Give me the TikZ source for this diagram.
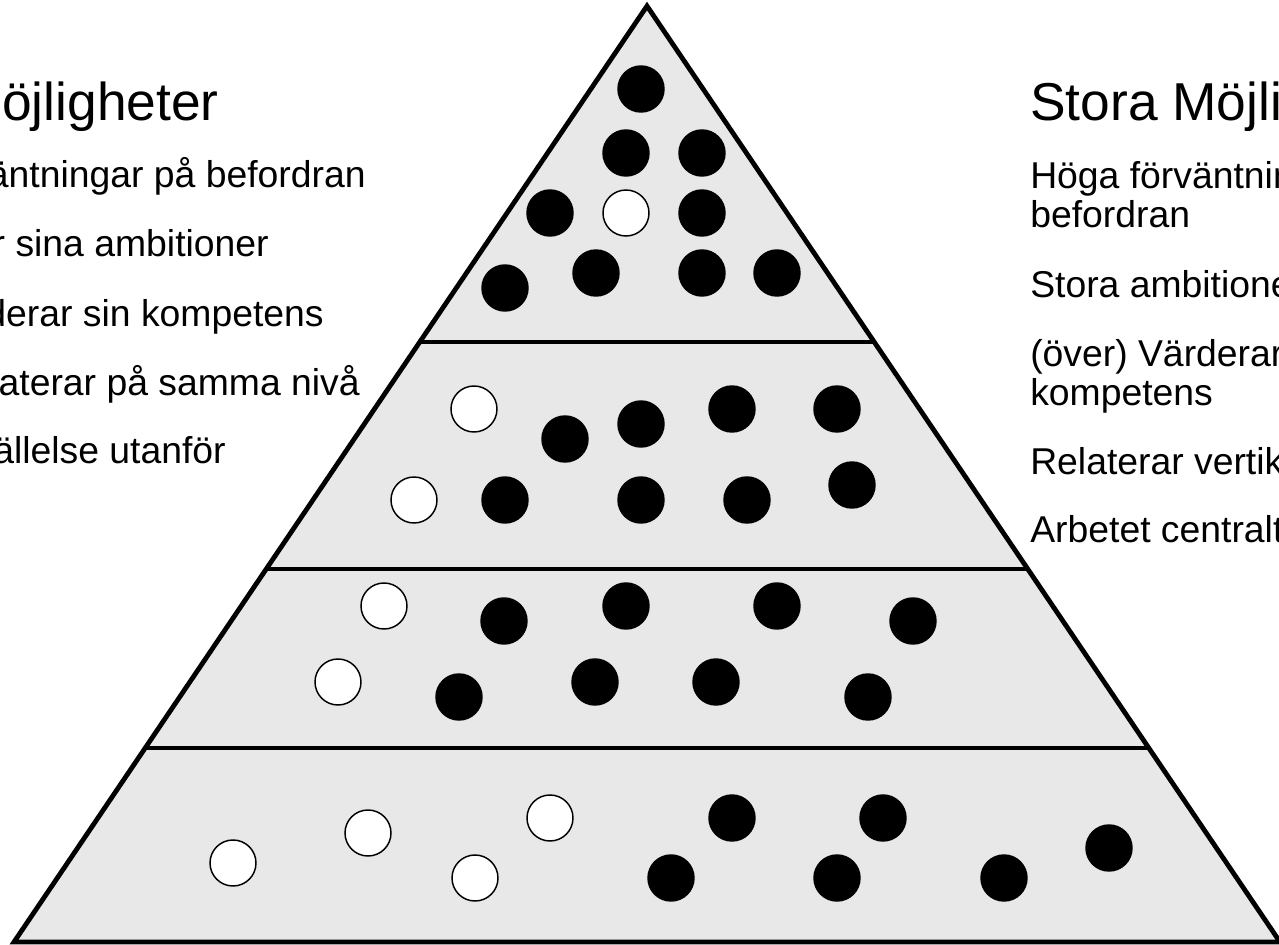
\documentclass[tikz,border=0pt]{standalone}
\usepackage{fontspec}
\setmainfont{Liberation Sans}
\usepackage{xcolor}
\usetikzlibrary{calc, positioning}

\definecolor{pyrgray}{RGB}{232,232,232}

\begin{document}
\begin{tikzpicture}[x=0.75pt, y=-0.75pt,
    blackball/.style={circle, draw=black, fill=black, line width=1.1pt, minimum size=34.5pt, inner sep=0pt},
    whiteball/.style={circle, draw=black, fill=white, line width=1.1pt, minimum size=34.5pt, inner sep=0pt},
    heading/.style={inner sep=0pt, font=\fontsize{40}{47}\selectfont},
    point/.style={inner sep=0pt, font=\fontsize{28}{32}\selectfont}]

        \useasboundingbox (0,0) rectangle (1279,945);
        \clip (0,0) rectangle (1279,945);

        \coordinate (top) at (647,6);
        \coordinate (bl) at (14,942);
        \coordinate (br) at (1280,942);

        \draw[line width=3.6pt, fill=pyrgray] (bl) -- (top) -- (br) -- cycle;

        \foreach \t [count=\i] in {0.359, 0.6015, 0.7927} {
            \coordinate (dl\i) at ($(top)!\t!(bl)$);
            \coordinate (dr\i) at ($(top)!\t!(br)$);
            \draw[line width=2.6pt] (dl\i) -- (dr\i);
        }

        \foreach \x/\y/\s [count=\i] in {
            641/89/blackball, 626/153/blackball, 702/153/blackball, 550/213/blackball, 626/213/whiteball,
            702/213/blackball, 505/288/blackball, 596/273/blackball, 702/273/blackball, 777/273/blackball,
            474/409/whiteball, 565/439/blackball, 641/424/blackball, 732/409/blackball, 837/409/blackball,
            414/500/whiteball, 505/500/blackball, 641/500/blackball, 747/500/blackball, 852/485/blackball,
            384/606/whiteball, 504/621/blackball, 626/606/blackball, 777/606/blackball, 913/621/blackball,
            338/682/whiteball, 459/697/blackball, 595/682/blackball, 716/682/blackball, 868/697/blackball,
            233/863/whiteball, 368/833/whiteball, 475/878/whiteball, 550/818/whiteball, 732/818/blackball,
            671/878/blackball, 883/818/blackball, 837/878/blackball, 1004/878/blackball, 1109/848/blackball} {
            \node[\s] (c\i) at (\x,\y) {};
        }

        \node[heading, anchor=base east] (small) at (219,121) {Små möjligheter};
        \node[point, anchor=base east] (low1) at (366,188) {Låga förväntningar på befordran};
        \node[point, anchor=base east] (low2) at (269,257) {Begränsar sina ambitioner};
        \node[point, anchor=base east] (low3) at (324,326) {Undervärderar sin kompetens};
        \node[point, anchor=base east] (low4) at (360,395) {Relaterar på samma nivå};
        \node[point, anchor=base east] (low5) at (226,463) {Tillfredsställelse utanför};

        \node[heading, anchor=base west] (big) at (1030,121) {Stora Möjligheter};
        \node[point, anchor=base west] (high1) at (1030,189) {Höga förväntningar på};
        \node[point, anchor=base west] (high1b) at (1030,228) {befordran};
        \node[point, anchor=base west] (high2) at (1030,297) {Stora ambitioner};
        \node[point, anchor=base west] (high3) at (1030,366) {(över) Värderar sin};
        \node[point, anchor=base west] (high3b) at (1030,405) {kompetens};
        \node[point, anchor=base west] (high4) at (1030,474) {Relaterar vertikalt};
        \node[point, anchor=base west] (high5) at (1030,542) {Arbetet centralt};

    \end{tikzpicture}
\end{document}
